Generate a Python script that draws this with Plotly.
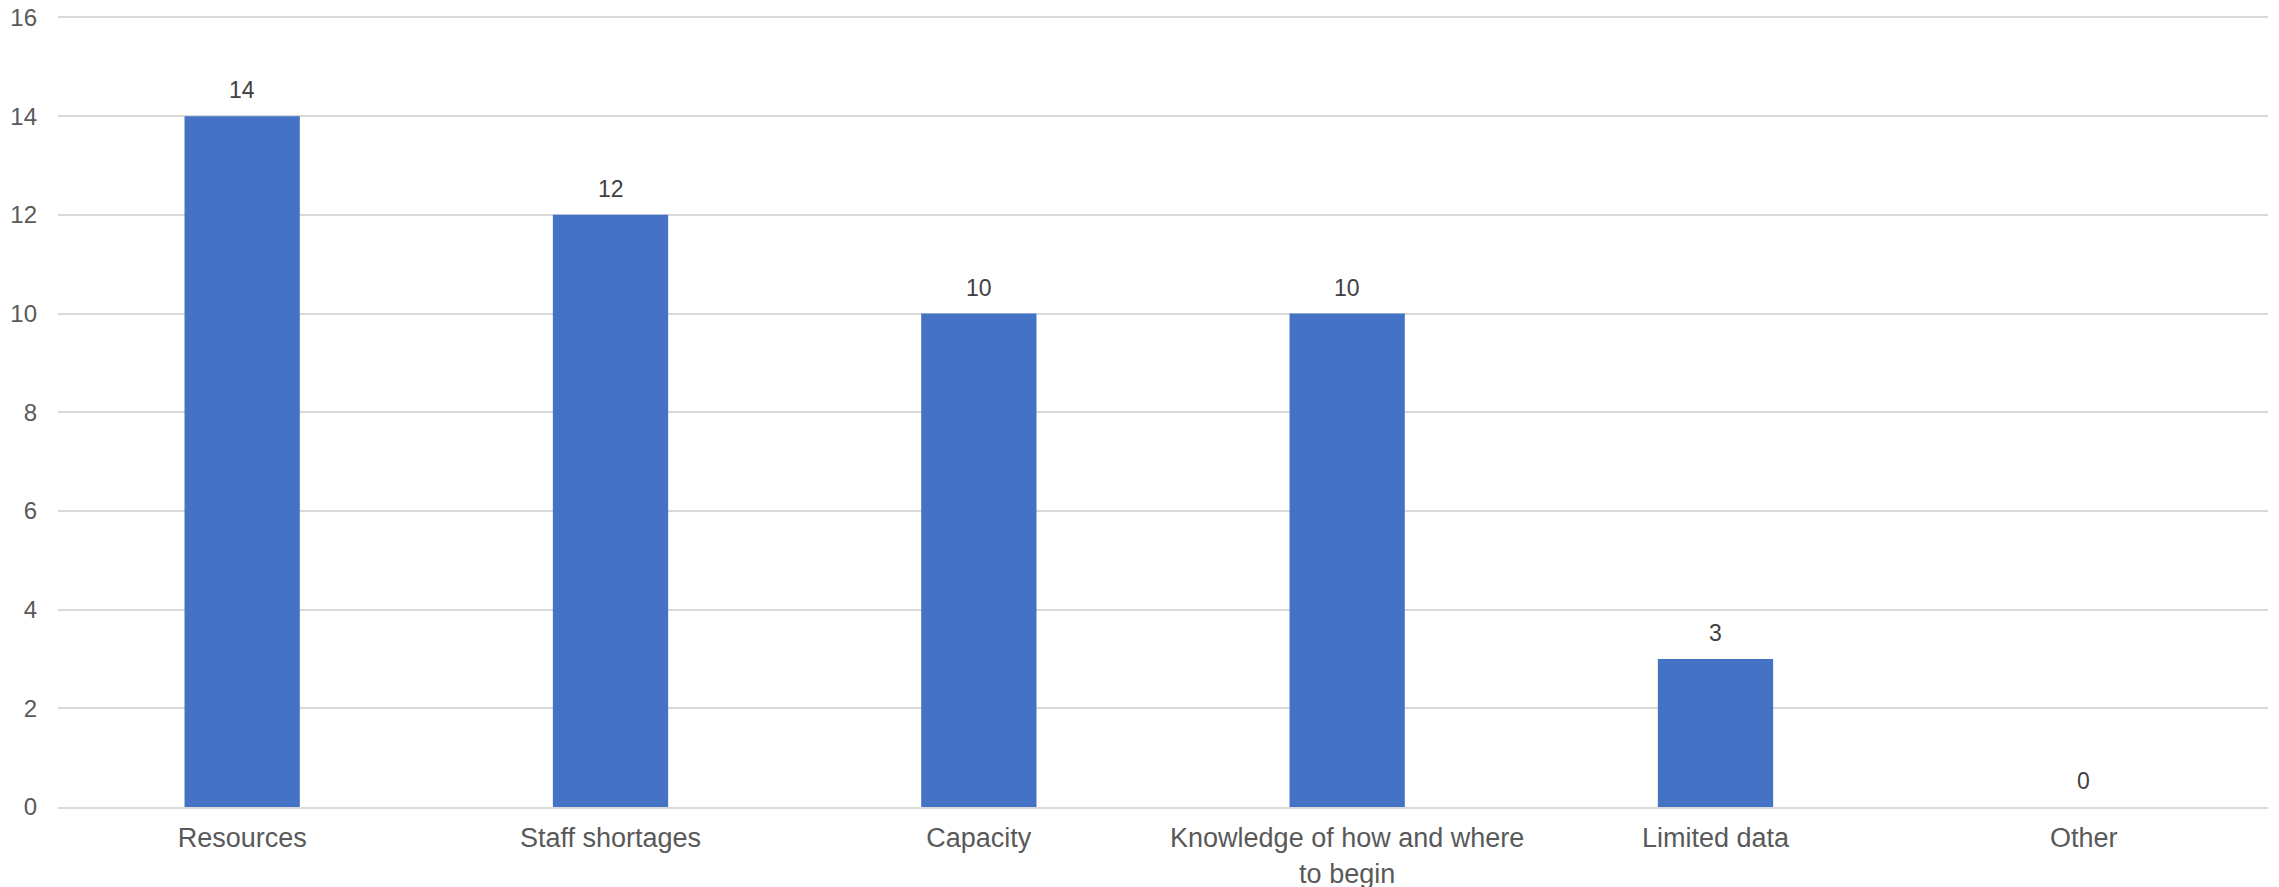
import plotly.graph_objects as go

categories = ["Resources", "Staff shortages", "Capacity",
              "Knowledge of how and where<br>to begin", "Limited data", "Other"]
values = [14, 12, 10, 10, 3, 0]
y_ticks = [0, 2, 4, 6, 8, 10, 12, 14, 16]

fig = go.Figure()
fig.add_trace(go.Bar(
    x=categories, y=values,
    marker=dict(color="#4472C4", line=dict(width=0)),
    hoverinfo="x+y",
))

for c, v in zip(categories, values):
    fig.add_annotation(
        x=c, y=v, text=str(v), showarrow=False,
        yanchor="bottom", yshift=11,
        font=dict(family="Liberation Sans, Arial, sans-serif", size=23, color="#404040"),
    )

fig.update_layout(
    width=2271, height=879,
    margin=dict(l=50, r=11, t=8, b=80),
    paper_bgcolor="white", plot_bgcolor="white",
    bargap=0.687,
    showlegend=False,
    font=dict(family="Liberation Sans, Arial, sans-serif", color="#595959"),
)
fig.update_yaxes(
    range=[0, 16.03], tickvals=y_ticks,
    showgrid=True, gridcolor="#D9D9D9", gridwidth=2,
    zeroline=False, showline=False,
    tickfont=dict(size=24, color="#595959"),
    ticks="", ticklabelstandoff=20, automargin=False,
    ticklabeloverflow="allow",
)
fig.update_xaxes(
    showgrid=False, showline=True, linecolor="#D9D9D9", linewidth=2,
    tickfont=dict(size=27, color="#595959"),
    ticks="", ticklabelstandoff=6, automargin=False,
    ticklabeloverflow="allow",
)

fig.write_html("out.html")
